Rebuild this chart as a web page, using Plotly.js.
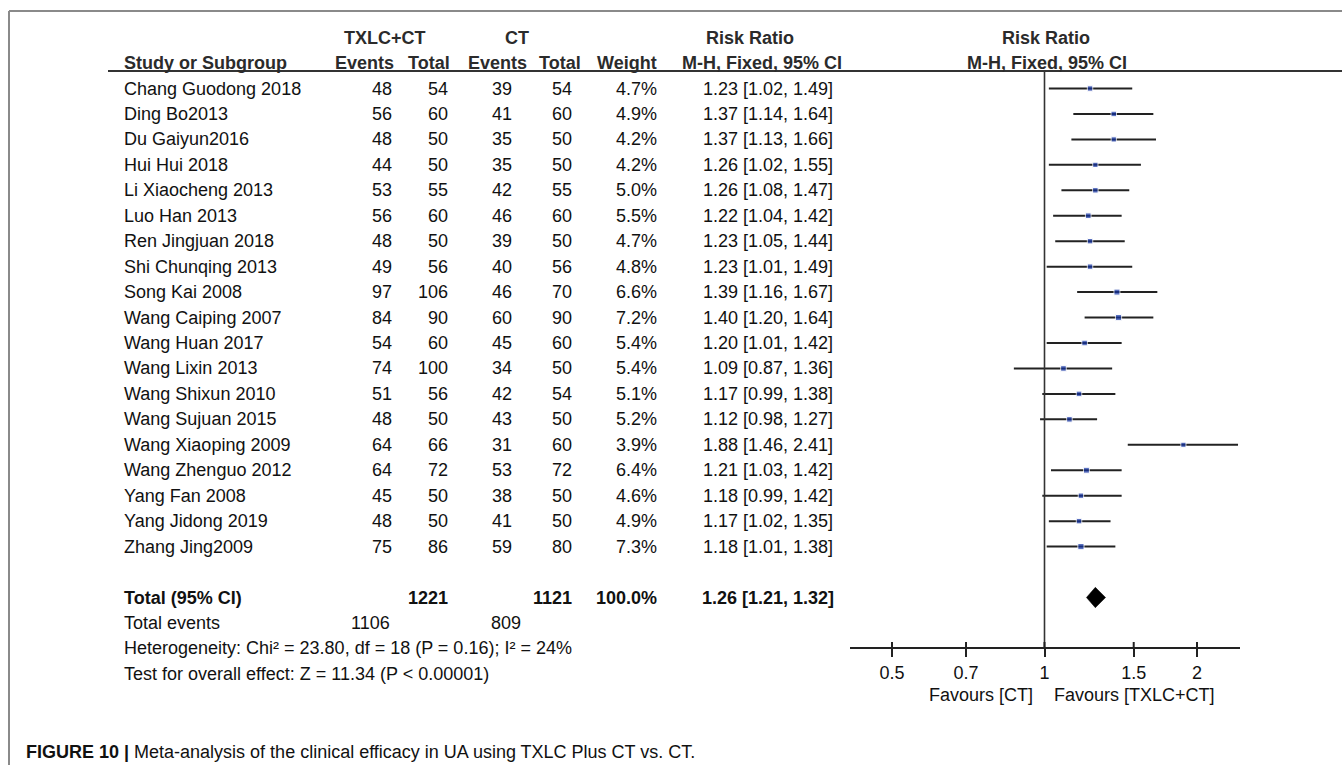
<!DOCTYPE html>
<html>
<head>
<meta charset="utf-8">
<script src="https://cdn.plot.ly/plotly-3.0.1.min.js"></script>
<style>
html,body{margin:0;padding:0;background:#fff;}
#chart{width:1342px;height:765px;}
</style>
</head>
<body>
<div id="chart"></div>
<script>
// ---------------- DATA ----------------
const studies = ["Chang Guodong 2018","Ding Bo2013","Du Gaiyun2016","Hui Hui 2018","Li Xiaocheng 2013",
  "Luo Han 2013","Ren Jingjuan 2018","Shi Chunqing 2013","Song Kai 2008","Wang Caiping 2007",
  "Wang Huan 2017","Wang Lixin 2013","Wang Shixun 2010","Wang Sujuan 2015","Wang Xiaoping 2009",
  "Wang Zhenguo 2012","Yang Fan 2008","Yang Jidong 2019","Zhang Jing2009"];
const expEvents = [48,56,48,44,53,56,48,49,97,84,54,74,51,48,64,64,45,48,75];
const expTotal  = [54,60,50,50,55,60,50,56,106,90,60,100,56,50,66,72,50,50,86];
const ctlEvents = [39,41,35,35,42,46,39,40,46,60,45,34,42,43,31,53,38,41,59];
const ctlTotal  = [54,60,50,50,55,60,50,56,70,90,60,50,54,50,60,72,50,50,80];
const weights   = [4.7,4.9,4.2,4.2,5.0,5.5,4.7,4.8,6.6,7.2,5.4,5.4,5.1,5.2,3.9,6.4,4.6,4.9,7.3];
const rr  = [1.23,1.37,1.37,1.26,1.26,1.22,1.23,1.23,1.39,1.40,1.20,1.09,1.17,1.12,1.88,1.21,1.18,1.17,1.18];
const lo  = [1.02,1.14,1.13,1.02,1.08,1.04,1.05,1.01,1.16,1.20,1.01,0.87,0.99,0.98,1.46,1.03,0.99,1.02,1.01];
const hi  = [1.49,1.64,1.66,1.55,1.47,1.42,1.44,1.49,1.67,1.64,1.42,1.36,1.38,1.27,2.41,1.42,1.42,1.35,1.38];

const totalExpN = 1221, totalCtlN = 1121, totalExpEv = 1106, totalCtlEv = 809;
const totalWeight = "100.0%";
const totalRR = [1.26, 1.21, 1.32]; // est, lower, upper
const heterogeneityText = "Heterogeneity: Chi² = 23.80, df = 18 (P = 0.16); I² = 24%";
const overallText = "Test for overall effect: Z = 11.34 (P < 0.00001)";
const tickVals = [0.5, 0.7, 1, 1.5, 2];
const tickLabels = ["0.5", "0.7", "1", "1.5", "2"];
const favLeft = "Favours [CT]", favRight = "Favours [TXLC+CT]";
const captionLabel = "FIGURE 10 |";
const captionText = "Meta-analysis of the clinical efficacy in UA using TXLC Plus CT vs. CT.";

// ---------------- LAYOUT HELPERS ----------------
const W = 1342, H = 765;
const FONT = "Liberation Sans, Arial, Helvetica, sans-serif";
const px = x => x / W;          // horizontal pixel -> paper
const py = y => 1 - y / H;      // vertical pixel -> paper
const row0 = 88.5, rowH = 25.45;
const yTop = -row0 / rowH, yBot = (H - row0) / rowH;
const axisY = 648;
const TXT = "#111", HDR = "#2b2b2b";

const ann = [];
function t(text, xpix, row, anchor, opts) {
  opts = opts || {};
  ann.push({text: opts.bold ? "<b>" + text + "</b>" : text, xref: "paper", x: px(xpix), yref: "y", y: row,
    xanchor: anchor, yanchor: "middle", showarrow: false, borderpad: 0,
    font: {family: FONT, size: opts.size || 18, color: opts.color || TXT}});
}
// columns (pixel positions)
const C = {name: 123, e1: 393, n1: 449, e2: 513, n2: 573, w: 658, ci: 768};

// header
t("TXLC+CT", 385, -2, "center", {bold: true, color: HDR});
t("CT", 517, -2, "center", {bold: true, color: HDR});
t("Risk Ratio", 750, -2, "center", {bold: true, color: HDR});
t("Risk Ratio", 1046, -2, "center", {bold: true, color: HDR});
t("Study or Subgroup", C.name, -1, "left", {bold: true, color: HDR});
t("Events", 364, -1, "center", {bold: true, color: HDR});
t("Total", 429, -1, "center", {bold: true, color: HDR});
t("Events", 497, -1, "center", {bold: true, color: HDR});
t("Total", 560, -1, "center", {bold: true, color: HDR});
t("Weight", 627, -1, "center", {bold: true, color: HDR});
t("M-H, Fixed, 95% CI", 762, -1, "center", {bold: true, color: HDR});
t("M-H, Fixed, 95% CI", 1047, -1, "center", {bold: true, color: HDR});

// study rows
const fmt = v => v.toFixed(2);
studies.forEach((s, i) => {
  t(s, C.name, i, "left");
  t(String(expEvents[i]), C.e1, i, "right");
  t(String(expTotal[i]), C.n1, i, "right");
  t(String(ctlEvents[i]), C.e2, i, "right");
  t(String(ctlTotal[i]), C.n2, i, "right");
  t(weights[i].toFixed(1) + "%", C.w, i, "right");
  t(fmt(rr[i]) + " [" + fmt(lo[i]) + ", " + fmt(hi[i]) + "]", C.ci, i, "center");
});
const nS = studies.length;
const rTot = nS + 1;
t("Total (95% CI)", C.name, rTot, "left", {bold: true});
t(String(totalExpN), C.n1, rTot, "right", {bold: true});
t(String(totalCtlN), C.n2, rTot, "right", {bold: true});
t(totalWeight, C.w, rTot, "right", {bold: true});
t(fmt(totalRR[0]) + " [" + fmt(totalRR[1]) + ", " + fmt(totalRR[2]) + "]", C.ci, rTot, "center", {bold: true});
t("Total events", C.name, rTot + 1, "left");
t(String(totalExpEv), 391, rTot + 1, "right");
t(String(totalCtlEv), 522, rTot + 1, "right");
t(heterogeneityText, C.name, rTot + 2, "left");
t(overallText, C.name, rTot + 3, "left");

// favours labels
const favRow = (695 - row0) / rowH;
t(favLeft, 1034, favRow, "right");
t(favRight, 1053, favRow, "left");

// caption
ann.push({text: "<b>" + captionLabel + "</b> " + captionText, xref: "paper", yref: "paper", x: px(25), y: py(752),
  xanchor: "left", yanchor: "middle", showarrow: false, borderpad: 0,
  font: {family: FONT, size: 18, color: "#111"}});

// ---------------- TRACES ----------------
const rows = studies.map((_, i) => i);
const traces = [
  {type: "scatter", mode: "markers", x: rr, y: rows, xaxis: "x", yaxis: "y",
   marker: {symbol: "square", color: "#1434a4", size: weights.map(w => 4 + w * 0.3)},
   error_x: {type: "data", symmetric: false,
     array: rr.map((v, i) => hi[i] - v), arrayminus: rr.map((v, i) => v - lo[i]),
     color: "#222", thickness: 2, width: 0},
   hoverinfo: "skip", showlegend: false},
  {type: "scatter", mode: "lines", fill: "toself", fillcolor: "#000",
   x: [totalRR[1], totalRR[0], totalRR[2], totalRR[0], totalRR[1]],
   y: [rTot, rTot - 0.4, rTot, rTot + 0.4, rTot],
   line: {color: "#000", width: 0.5}, hoverinfo: "skip", showlegend: false}
];

// ---------------- SHAPES ----------------
const shapes = [
  // figure frame (top and left)
  {type: "line", xref: "paper", yref: "paper", x0: px(9), x1: 1, y0: py(11), y1: py(11), line: {color: "#8a8a8a", width: 2}},
  {type: "line", xref: "paper", yref: "paper", x0: px(9), x1: px(9), y0: py(11), y1: 0, line: {color: "#8a8a8a", width: 2}},
  // header rule
  {type: "line", xref: "paper", yref: "paper", x0: px(108), x1: 1, y0: py(71), y1: py(71), line: {color: "#333", width: 2}},
  // line of no effect
  {type: "line", xref: "x", yref: "paper", x0: 1, x1: 1, y0: py(71), y1: py(axisY), line: {color: "#333", width: 1.6}}
];
tickVals.forEach(v => shapes.push({type: "line", xref: "x", yref: "paper", x0: v, x1: v,
  y0: py(axisY), y1: py(axisY - 6), line: {color: "#222", width: 2}}));

const xLeft = 850, xRight = 1240, xOne = 1044.5, pxPerDecade = 506.6;

const layout = {
  width: W, height: H,
  margin: {l: 0, r: 0, t: 0, b: 0, pad: 0},
  paper_bgcolor: "#fff", plot_bgcolor: "rgba(0,0,0,0)",
  showlegend: false,
  xaxis: {type: "log", domain: [px(xLeft), px(xRight)],
    range: [(xLeft - xOne) / pxPerDecade, (xRight - xOne) / pxPerDecade],
    anchor: "free", position: py(axisY),
    showline: true, linecolor: "#222", linewidth: 2,
    ticks: "outside", ticklen: 8, tickwidth: 2, tickcolor: "#222",
    tickvals: tickVals, ticktext: tickLabels,
    tickfont: {family: FONT, size: 18, color: TXT},
    showgrid: false, zeroline: false, fixedrange: true},
  yaxis: {domain: [0, 1], range: [yBot, yTop], visible: false, showgrid: false, zeroline: false, fixedrange: true},
  annotations: ann,
  shapes: shapes
};

Plotly.newPlot("chart", traces, layout, {staticPlot: true, displayModeBar: false});
</script>
</body>
</html>
